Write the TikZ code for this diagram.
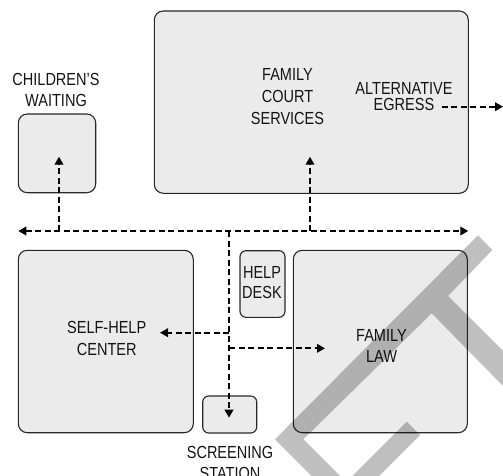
\documentclass[tikz,border=0pt]{standalone}
\usepackage{fontspec}
\setmainfont{Liberation Sans}[FakeStretch=0.83]
\usetikzlibrary{arrows.meta}
\definecolor{boxfill}{RGB}{235,235,235}
\definecolor{boxline}{RGB}{40,40,40}
\definecolor{txt}{RGB}{20,20,20}
\begin{document}
\begin{tikzpicture}[x=1pt,y=-1pt,
  box/.style={draw=boxline, fill=boxfill, line width=1.1pt, rounded corners=9pt, inner sep=0pt, outer sep=0pt},
  smallbox/.style={box, rounded corners=6pt},
  lbl/.style={anchor=base, inner sep=0pt, outer sep=0pt, text=txt, font=\fontsize{17.5}{20}\selectfont},
  >={Triangle[length=8pt,width=8.5pt]},
  flow/.style={line width=2pt, dash pattern=on 6pt off 3.5pt, ->},
  flowboth/.style={flow, <->},
  wm/.style={fill=black, fill opacity=0.25, draw=none}]

\useasboundingbox (0,0) rectangle (503,476);

% boxes
\node[box, minimum width=77.4pt, minimum height=78.7pt] (cw) at (57,153.35) {};
\node[box, minimum width=314pt, minimum height=182.3pt] (fcs) at (311.3,102.15) {};
\node[box, minimum width=175pt, minimum height=182.4pt] (sh) at (105.8,341.5) {};
\node[smallbox, minimum width=45pt, minimum height=66.6pt] (hd) at (262.5,284) {};
\node[box, minimum width=174pt, minimum height=182.4pt] (fl) at (380.3,341.5) {};
\node[smallbox, minimum width=54pt, minimum height=37pt] (ss) at (229.7,414.5) {};

% labels
\node[lbl] (cw1) at (56,86) {CHILDREN'S};
\node[lbl] (cw2) at (56,106.7) {WAITING};
\node[lbl] (fcs1) at (287.5,80.7) {FAMILY};
\node[lbl] (fcs2) at (287.5,102.7) {COURT};
\node[lbl] (fcs3) at (287.5,124.3) {SERVICES};
\node[lbl] (ae1) at (404,95) {ALTERNATIVE};
\node[lbl] (ae2) at (404,111) {EGRESS};
\node[lbl] (sh1) at (106.7,333.3) {SELF-HELP};
\node[lbl] (sh2) at (106.7,355.3) {CENTER};
\node[lbl] (hd1) at (262,278.3) {HELP};
\node[lbl] (hd2) at (262,298.3) {DESK};
\node[lbl] (fl1) at (381.5,341) {FAMILY};
\node[lbl] (fl2) at (381.5,362.7) {LAW};
\node[lbl] (ss1) at (230,458.3) {SCREENING};
\node[lbl] (ss2) at (230,479.5) {STATION};

% connector points
\coordinate (hL) at (18.3,231);
\coordinate (hR) at (468.3,231);
\coordinate (jcw) at (59,231);
\coordinate (cwtip) at (59,156.7);
\coordinate (jfcs) at (310,231);
\coordinate (fcstip) at (310,156.7);
\coordinate (jmain) at (229,231);
\coordinate (sstip) at (229,417.7);
\coordinate (jsh) at (229,332.7);
\coordinate (shtip) at (160,332.7);
\coordinate (jfl) at (229,348.3);
\coordinate (fltip) at (325,348.3);
\coordinate (eg1) at (441.7,106.7);
\coordinate (egtip) at (503,106.7);

% connectors
\draw[flowboth] (hL) -- (hR);
\draw[flow] (jcw) -- (cwtip);
\draw[flow] (jfcs) -- (fcstip);
\draw[flow] (jmain) -- (sstip);
\draw[flow] (jsh) -- (shtip);
\draw[flow] (jfl) -- (fltip);
\draw[flow] (eg1) -- (egtip);

% watermark
\fill[wm] (478,235.3) -- (492.3,250) -- (448,296) -- (503,351) -- (503,386)
  -- (431.7,313.3) -- (303.3,439.3) -- (340,476) -- (311.7,476) -- (275,439.3) -- cycle;
\fill[wm] (406.7,421.7) -- (420,435) -- (379,476) -- (352.4,476) -- cycle;
\end{tikzpicture}
\end{document}
